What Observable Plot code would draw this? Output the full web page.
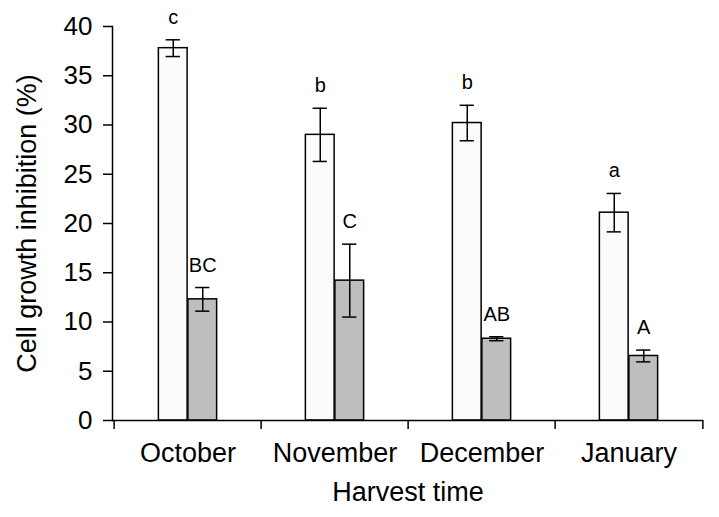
<!DOCTYPE html>
<html>
<head>
<meta charset="utf-8">
<script src="https://cdn.jsdelivr.net/npm/d3@7"></script>
<script src="https://cdn.jsdelivr.net/npm/@observablehq/plot@0.6"></script>
<style>
  html, body { margin: 0; padding: 0; background: #fff; }
</style>
</head>
<body>
<div id="chart"></div>
<script>
const months = ["October", "November", "December", "January"];
const whiteMean = [37.8, 29.0, 30.2, 21.1];
const whiteErr = [0.85, 2.7, 1.8, 1.95];
const grayMean = [12.3, 14.2, 8.3, 6.55];
const grayErr = [1.2, 3.7, 0.2, 0.6];
const whiteLetters = ["c", "b", "b", "a"];
const grayLetters = ["BC", "C", "AB", "A"];
const yTicks = [0, 5, 10, 15, 20, 25, 30, 35, 40];
const xTitle = "Harvest time";
const yTitle = "Cell growth inhibition (%)";

const W = 719, H = 517;
const mL = 112, mR = 16, mT = 26, mB = 97;
const step = (W - mL - mR) / months.length;
const barW = 29.5;
const capW = 15;
const half = step / 2;

const rows = months.flatMap((m, i) => [
  {month: m, series: "white", value: whiteMean[i], err: whiteErr[i], letter: whiteLetters[i]},
  {month: m, series: "gray", value: grayMean[i], err: grayErr[i], letter: grayLetters[i]}
]);
const whiteRows = rows.filter(d => d.series === "white");
const grayRows = rows.filter(d => d.series === "gray");

function series(data, sign, fill) {
  const center = half + sign * barW / 2; // offset of bar centre within band
  return [
    Plot.barY(data, {
      x: "month", y: "value", fill, stroke: "black", strokeWidth: 1.5,
      insetLeft: sign < 0 ? half - barW : half,
      insetRight: sign < 0 ? half : half - barW
    }),
    Plot.ruleX(data, {
      x: "month", y1: d => d.value - d.err, y2: d => d.value + d.err,
      dx: sign * barW / 2, stroke: "black", strokeWidth: 1.5
    }),
    Plot.tickY(data, {
      x: "month", y: d => d.value + d.err, stroke: "black", strokeWidth: 1.5,
      insetLeft: center - capW / 2, insetRight: step - center - capW / 2
    }),
    Plot.tickY(data, {
      x: "month", y: d => d.value - d.err, stroke: "black", strokeWidth: 1.5,
      insetLeft: center - capW / 2, insetRight: step - center - capW / 2
    }),
    Plot.text(data, {
      x: "month", y: d => d.value + d.err, text: "letter",
      dx: sign * barW / 2, dy: -16, lineAnchor: "bottom",
      fontSize: 20, fill: "black"
    })
  ];
}

const chart = Plot.plot({
  width: W, height: H,
  marginLeft: mL, marginRight: mR, marginTop: mT, marginBottom: mB,
  style: {fontFamily: "'Liberation Sans', Arial, sans-serif", fontSize: "26px", color: "black", background: "white"},
  x: {type: "band", domain: months, padding: 0, axis: null},
  y: {domain: [0, 40], axis: null},
  marks: [
    ...series(whiteRows, -1, "#fbfbfb"),
    ...series(grayRows, 1, "#bebebe"),
    Plot.frame({anchor: "left", stroke: "black", strokeWidth: 1.5}),
    Plot.ruleY([0], {stroke: "black", strokeWidth: 1.5}),
    Plot.ruleX(months, {x: d => d, y1: 0, y2: 0, dx: -half, insetBottom: -9, stroke: "black", strokeWidth: 1.5}),
    Plot.ruleX(months.slice(-1), {x: d => d, y1: 0, y2: 0, dx: half, insetBottom: -9, stroke: "black", strokeWidth: 1.5}),
    Plot.axisY({ticks: yTicks, tickSize: 9, tickPadding: 11, strokeWidth: 1.5, label: null, fontSize: 26}),
    Plot.axisX({tickSize: 0, tickPadding: 22, label: null, fontSize: 27}),
    Plot.text([xTitle], {frameAnchor: "bottom", dy: 80, lineAnchor: "bottom", textAnchor: "middle", fontSize: 27, fill: "black"}),
    Plot.text([yTitle], {frameAnchor: "left", dx: -77, rotate: -90, lineAnchor: "bottom", textAnchor: "middle", fontSize: 27, fill: "black"})
  ]
});
document.getElementById("chart").appendChild(chart);
</script>
</body>
</html>
